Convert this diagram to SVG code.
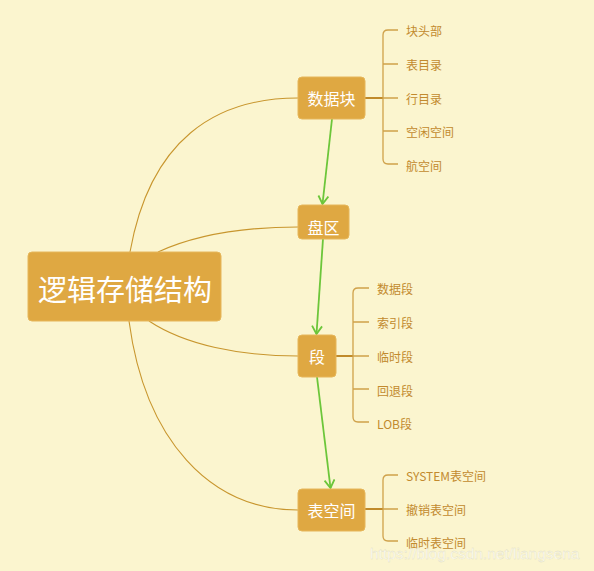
<svg xmlns="http://www.w3.org/2000/svg" width="594" height="571" viewBox="0 0 594 571">
<defs>
<style>
.node rect{fill:#DFA842;stroke:#E6B65A;stroke-width:1}
.node text{fill:#FFFFFF;font-family:"Noto Sans CJK SC","Noto Sans",sans-serif;text-anchor:middle;dominant-baseline:central}
.curve{fill:none;stroke:#C8962E;stroke-width:1.1}
.arrow{fill:none;stroke:#6CC63A;stroke-width:1.8;marker-end:url(#ah)}
.br{fill:none;stroke:#CFA14A;stroke-width:1.3}
.stem{fill:none;stroke:#C08A2A;stroke-width:2}
.leaf{fill:#C28A2E;font-family:"Noto Sans CJK SC","Noto Sans",sans-serif;font-size:12px;dominant-baseline:central}
</style>
<marker id="ah" viewBox="0 0 12 12" refX="10" refY="6" markerWidth="12" markerHeight="12" markerUnits="userSpaceOnUse" orient="auto">
<path d="M2,1 L10,6 L2,11" fill="none" stroke="#6CC63A" stroke-width="1.8"/>
</marker>
</defs>
<rect width="594" height="571" fill="#FBF5CF"/>
<g id="connectors">
<path class="curve" d="M130,252 C150,140 215,98 298,98"/>
<path class="curve" d="M158,252 C195,235 240,227 298,227"/>
<path class="curve" d="M149,321 C185,345 240,356 298,356"/>
<path class="curve" d="M129,321 C145,440 210,510 298,510"/>
<path class="arrow" d="M332,119 L322.5,204"/>
<path class="arrow" d="M323,239 L316.5,334"/>
<path class="arrow" d="M317,377 L330.5,488"/>
<path class="stem" d="M365,98 L383,98"/>
<path class="br" d="M398,30 L388,30 Q383,30 383,35 L383,159 Q383,164 388,164 L398,164 M383,64 L398,64 M383,98 L398,98 M383,131 L398,131"/>
<path class="stem" d="M336,356 L353,356"/>
<path class="br" d="M369,288 L358,288 Q353,288 353,293 L353,417 Q353,422 358,422 L369,422 M353,322 L369,322 M353,356 L369,356 M353,389 L369,389"/>
<path class="stem" d="M365,509 L383,509"/>
<path class="br" d="M398,475 L388,475 Q383,475 383,480 L383,536 Q383,541 388,541 L398,541 M383,509 L398,509"/>
</g>
<g id="root" class="node"><rect x="28" y="252" width="193" height="69" rx="4"/><text x="125" y="288" font-size="29">逻辑存储结构</text></g>
<g id="n-datablock" class="node"><rect x="298" y="77" width="67" height="42" rx="4"/><text x="331.5" y="98" font-size="16">数据块</text></g>
<g id="n-extent" class="node"><rect x="298" y="205" width="51" height="34" rx="4"/><text x="323.5" y="227" font-size="16">盘区</text></g>
<g id="n-segment" class="node"><rect x="298" y="335" width="38" height="42" rx="4"/><text x="317" y="356" font-size="16">段</text></g>
<g id="n-tablespace" class="node"><rect x="298" y="489" width="67" height="42" rx="4"/><text x="331.5" y="510" font-size="16">表空间</text></g>
<g id="leaves-datablock">
<text class="leaf" x="406" y="30">块头部</text>
<text class="leaf" x="406" y="64">表目录</text>
<text class="leaf" x="406" y="98">行目录</text>
<text class="leaf" x="406" y="131">空闲空间</text>
<text class="leaf" x="406" y="165">航空间</text>
</g>
<g id="leaves-segment">
<text class="leaf" x="377" y="288">数据段</text>
<text class="leaf" x="377" y="322">索引段</text>
<text class="leaf" x="377" y="356">临时段</text>
<text class="leaf" x="377" y="390">回退段</text>
<text class="leaf" x="377" y="423">LOB段</text>
</g>
<g id="leaves-tablespace">
<text class="leaf" x="406" y="475">SYSTEM表空间</text>
<text class="leaf" x="406" y="509">撤销表空间</text>
<text class="leaf" x="406" y="542">临时表空间</text>
</g>
<text x="370" y="559" font-family="Liberation Sans,Arial,sans-serif" font-size="15.5" fill="#FFFFFF" fill-opacity="0.75" stroke="#E0DCC0" stroke-width="0.3">https://blog.csdn.net/liangsena</text>
</svg>
